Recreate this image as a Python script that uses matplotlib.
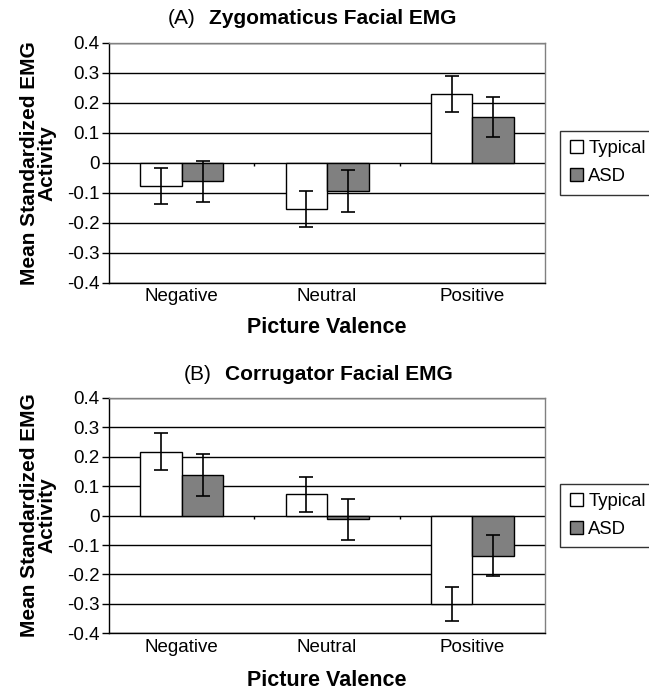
# Facial EMG by picture valence, typical vs ASD groups (two panels).

import numpy as np
import matplotlib.pyplot as plt

categories = ['Negative', 'Neutral', 'Positive']
groups = ['Typical', 'ASD']

zyg_typical = [-0.077, -0.153, 0.230]
zyg_asd = [-0.061, -0.094, 0.153]
zyg_typical_err = [0.060, 0.060, 0.060]
zyg_asd_err = [0.068, 0.070, 0.068]

cor_typical = [0.217, 0.072, -0.299]
cor_asd = [0.138, -0.012, -0.136]
cor_typical_err = [0.062, 0.060, 0.058]
cor_asd_err = [0.070, 0.070, 0.070]

y_ticks = [0.4, 0.3, 0.2, 0.1, 0, -0.1, -0.2, -0.3, -0.4]
y_tick_labels = ['0.4', '0.3', '0.2', '0.1', '0', '-0.1', '-0.2', '-0.3', '-0.4']

plt.rcParams['font.family'] = ['Liberation Sans', 'DejaVu Sans']


def panel(ax, letter, name, typical, asd, typical_err, asd_err, gap_x, xlab_y):
    x = np.arange(len(categories))
    w = 0.286
    ax.set_axisbelow(True)
    ax.yaxis.grid(True, color='black', linewidth=1.0)
    ax.bar(x - w / 2, typical, w, color='white', edgecolor='black', linewidth=1.0,
           yerr=typical_err, capsize=5, error_kw=dict(elinewidth=1.2, capthick=1.2),
           label=groups[0], zorder=3)
    ax.bar(x + w / 2, asd, w, color='#808080', edgecolor='black', linewidth=1.0,
           yerr=asd_err, capsize=5, error_kw=dict(elinewidth=1.2, capthick=1.2),
           label=groups[1], zorder=3)
    # small category separator ticks on the zero line
    bounds = x[:-1] + 0.5
    ax.vlines(bounds, -0.012, 0, color='black', linewidth=1.0, zorder=4)

    ax.set_xlim(-0.5, len(categories) - 0.5)
    ax.set_ylim(-0.4, 0.4)
    ax.set_yticks(y_ticks)
    ax.set_yticklabels(y_tick_labels)
    ax.set_xticks(x)
    ax.set_xticklabels(categories)
    ax.tick_params(axis='x', length=0, pad=4, labelsize=13.5)
    ax.tick_params(axis='y', length=5, width=1, direction='out', pad=2, labelsize=13.5)
    for s in ['left', 'bottom']:
        ax.spines[s].set_color('black')
        ax.spines[s].set_linewidth(1.0)
    for s in ['top', 'right']:
        ax.spines[s].set_color('#808080')
        ax.spines[s].set_linewidth(1.0)

    ax.text(gap_x - 0.03, 1.10, letter, transform=ax.transAxes, ha='right',
            va='center', fontsize=15)
    ax.text(gap_x, 1.10, name, transform=ax.transAxes, ha='left',
            va='center', fontsize=15, fontweight='bold')
    ax.text(-0.163, 0.5, 'Mean Standardized EMG\nActivity', transform=ax.transAxes,
            rotation=90, ha='center', va='center', multialignment='center',
            fontsize=15, fontweight='bold', linespacing=0.9)
    ax.text(0.5, xlab_y, 'Picture Valence', transform=ax.transAxes, ha='center',
            va='center', fontsize=15.5, fontweight='bold')

    leg = ax.legend(loc='center left', bbox_to_anchor=(1.035, 0.5), fontsize=13.3,
                    frameon=True, fancybox=False, handlelength=0.7, handleheight=0.7,
                    handletextpad=0.3, borderpad=0.5, labelspacing=0.6,
                    borderaxespad=0)
    leg.get_frame().set_edgecolor('black')
    leg.get_frame().set_linewidth(1.0)


def main():
    fig = plt.figure(figsize=(6.49, 6.93), dpi=100)
    ax1 = fig.add_axes([0.168, 0.592, 0.672, 0.346])
    ax2 = fig.add_axes([0.168, 0.086, 0.672, 0.340])
    panel(ax1, '(A)', 'Zygomaticus Facial EMG', zyg_typical, zyg_asd,
          zyg_typical_err, zyg_asd_err, 0.229, -0.185)
    panel(ax2, '(B)', 'Corrugator Facial EMG', cor_typical, cor_asd,
          cor_typical_err, cor_asd_err, 0.266, -0.20)
    fig.savefig('out.png', dpi=100)


if __name__ == "__main__":
    main()
